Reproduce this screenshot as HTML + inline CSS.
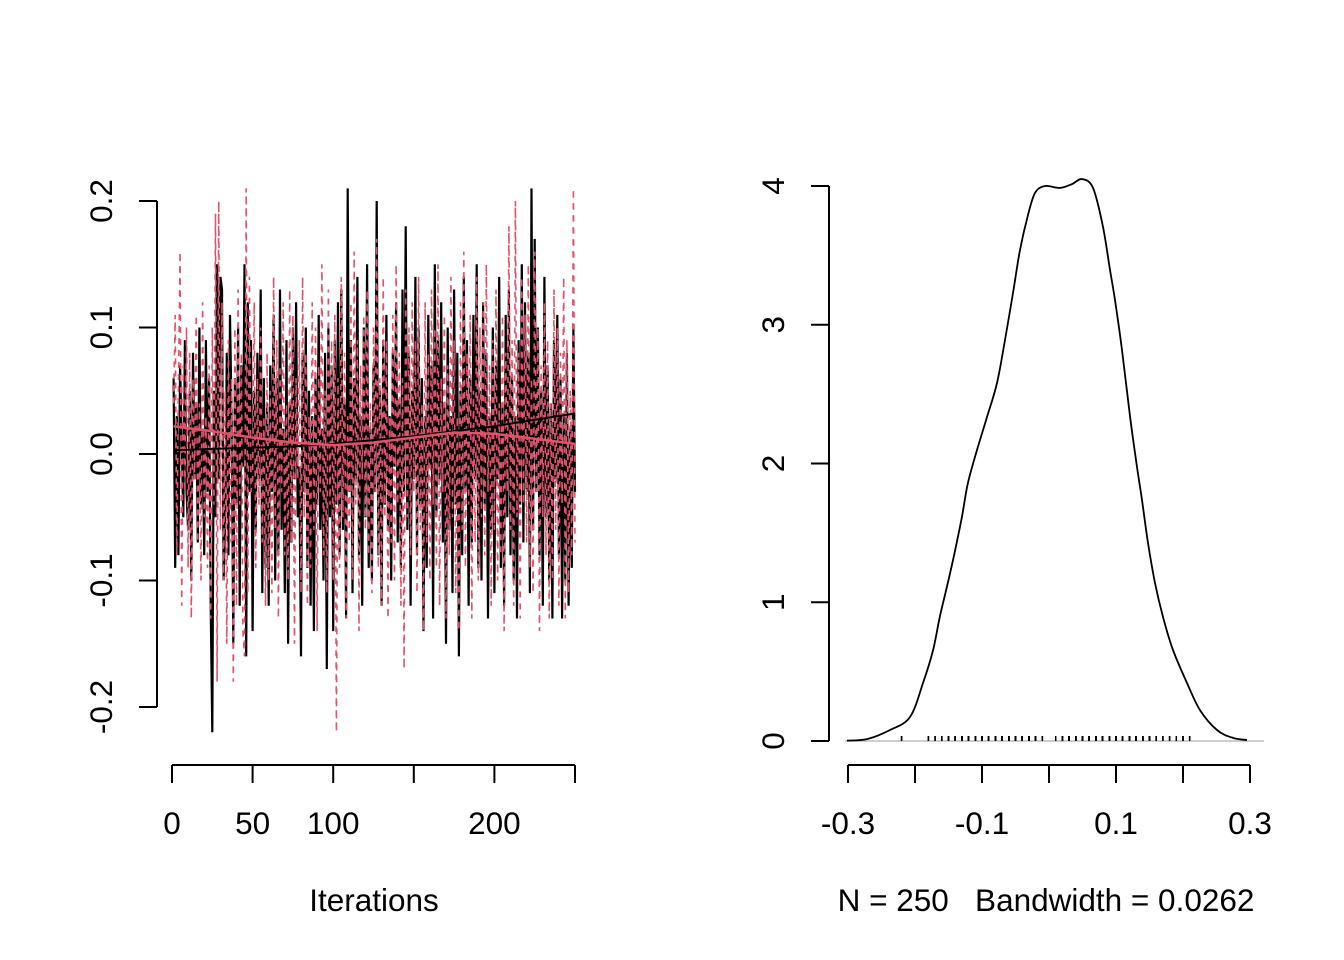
<!DOCTYPE html>
<html><head><meta charset="utf-8"><style>
html,body{margin:0;padding:0;background:#fff;width:1344px;height:960px;overflow:hidden}
svg text{font-family:"Liberation Sans",Arial,sans-serif;font-size:31.5px;fill:#000}
</style></head><body>
<svg id="s" width="1344" height="960" xmlns="http://www.w3.org/2000/svg">
<g id="trace"></g>
<g id="dens"></g>
</svg>
<script>
const chain1=[6,-9,3,-8,7,1,-5,9,-3,-6,5,-10,8,-2,4,-7,10,-4,2,-8,9,-3,6,-12,-22,5,-5,15,-2,14,13,-10,-5,8,-8,11,3,-15,6,-4,10,-12,7,-1,15,-16,12,-3,9,-14,5,-6,8,-2,13,-11,6,-9,4,-12,7,-3,11,-10,6,-8,13,-6,2,-11,9,-15,4,-7,10,-2,12,-5,-1,-16,8,-3,10,-9,5,-12,3,-14,6,-4,11,-6,2,-10,8,-17,10,-5,7,-14,9,-4,12,-8,13,-6,4,-13,21,-3,9,-11,6,-2,14,-8,3,-12,10,-5,15,-9,2,-10,7,-3,20,-8,5,-12,9,-4,11,-6,3,-10,8,-1,12,-7,4,-9,13,-3,18,-6,8,-12,5,-2,14,-8,10,-4,6,-14,3,-9,11,-1,7,-13,15,-5,9,-2,12,-7,4,-15,10,-6,3,-11,13,-4,8,-16,5,-8,14,-3,9,-12,6,-7,11,-2,15,-9,5,-10,12,-4,8,-13,3,-6,10,-11,7,-2,14,-9,4,-12,11,-5,13,-8,6,-10,3,-13,9,-4,15,-7,12,-3,8,-11,21,-6,17,-3,10,-8,5,-12,14,-5,7,-10,4,-13,9,-2,11,-8,6,-13,3,-10,8,-12,2,-9,10,-3];
const chain2=[4,11,-8,5,16,-12,7,-3,10,-9,8,-13,6,-2,11,-7,4,-10,12,-5,3,-9,7,-13,10,-4,19,-18,20,-6,12,-10,5,-15,9,-7,6,-18,10,-12,13,-4,8,-14,-16,21,-11,14,-3,-2,12,-9,6,-4,10,-7,3,-12,8,-10,5,-11,14,-6,9,-13,7,-3,12,-8,4,-10,13,-7,11,-15,6,-2,9,-11,14,-5,8,-12,3,-9,12,-6,10,-14,7,-3,15,-8,5,-11,13,-4,9,-10,11,-22,6,-9,14,-5,8,-13,3,-7,12,-10,16,-4,9,-14,7,-2,11,-6,13,-8,4,-11,10,-3,17,-9,6,-12,14,-5,9,-13,3,-7,11,-10,15,-4,8,-12,6,-17,13,-5,10,-8,12,-3,9,-11,14,-6,4,-14,12,-7,8,-10,13,-4,10,-9,15,-12,6,-3,11,-13,7,-8,14,-5,9,-11,3,-14,12,-6,16,-9,8,-4,11,-13,5,-7,14,-10,10,-5,12,-8,15,-3,7,-12,9,-6,13,-10,4,-8,11,-14,8,-3,18,-6,9,-12,20,-5,8,-13,14,-4,11,-7,15,-9,6,-11,16,-3,10,-14,7,-5,12,-8,9,-13,4,-10,13,-6,10,-12,8,-4,14,-13,9,-11,5,-8,21,-7];
const smoothIter=[1,25,50,75,100,125,150,175,200,225,250];
const smooth1=[0.003,0.004,0.005,0.006,0.008,0.011,0.014,0.018,0.022,0.027,0.032];
const smooth2=[0.022,0.018,0.013,0.009,0.007,0.009,0.013,0.017,0.016,0.012,0.008];
const traceXTicks=[0,50,100,150,200,250];
const traceXLabels=["0","50","100","","200",""];
const traceYTicks=[-0.2,-0.1,0,0.1,0.2];
const traceYLabels=["-0.2","-0.1","0.0","0.1","0.2"];
const densX=[-0.3015,-0.2716,-0.2373,-0.2075,-0.188,-0.173,-0.163,-0.151,-0.140,-0.130,-0.121,-0.1075,-0.0925,-0.0776,-0.0657,-0.0537,-0.0433,-0.0313,-0.0209,-0.006,0.0164,0.0343,0.0493,0.0657,0.0806,0.091,0.0985,0.109,0.121,0.1313,0.1388,0.1478,0.1582,0.1701,0.185,0.206,0.2254,0.2507,0.2746,0.2955];
const densY=[0.003,0.014,0.079,0.173,0.418,0.656,0.894,1.139,1.377,1.614,1.859,2.097,2.335,2.580,2.890,3.229,3.539,3.791,3.950,4.0,3.986,4.014,4.050,3.986,3.705,3.395,3.178,2.818,2.335,1.975,1.737,1.427,1.139,0.894,0.656,0.418,0.223,0.079,0.022,0.007];
const densXTicks=[-0.3,-0.2,-0.1,0,0.1,0.2,0.3];
const densXLabels=["-0.3","","-0.1","","0.1","","0.3"];
const densYTicks=[0,1,2,3,4];

const NS="http://www.w3.org/2000/svg";
function mk(p,t,a){const e=document.createElementNS(NS,t);for(const k in a)e.setAttribute(k,a[k]);p.appendChild(e);return e;}
const tx=i=>172+i*(575-172)/250, ty=v=>454-v*1265;
const T=document.getElementById('trace');
function poly(arr,xf,col,dash,name,w){let d=arr.map((v,i)=>(i?'L':'M')+xf(i).toFixed(1)+' '+ty(v).toFixed(1)).join('');
 const p=mk(T,'path',{d:d,fill:'none',stroke:col,'stroke-width':w,'stroke-dasharray':dash||'none'});
 
 }
poly(chain1.map(v=>v/100),i=>tx(i+1),'#000','','chain1-trace',2.2);
poly(chain2.map(v=>v/100),i=>tx(i+1),'#DF536B','6,6','chain2-trace',1.6);
poly(smooth1,i=>tx(smoothIter[i]),'#000','','chain1-smooth',2);
poly(smooth2,i=>tx(smoothIter[i]),'#DF536B','','chain2-smooth',2.5);
let l=mk(T,'line',{x1:172,y1:765,x2:575,y2:765,stroke:'#000','stroke-width':2});

traceXTicks.forEach((v,i)=>{const x=tx(v);mk(T,'line',{x1:x,y1:765,x2:x,y2:783,stroke:'#000','stroke-width':2});
 if(traceXLabels[i]){const t=mk(T,'text',{x:x,y:834,'text-anchor':'middle'});t.textContent=traceXLabels[i];
 }});
l=mk(T,'line',{x1:157,y1:ty(-0.2),x2:157,y2:ty(0.2),stroke:'#000','stroke-width':2});

traceYTicks.forEach((v,i)=>{const y=ty(v);mk(T,'line',{x1:139,y1:y,x2:157,y2:y,stroke:'#000','stroke-width':2});
 const t=mk(T,'text',{x:112,y:y,'text-anchor':'middle',transform:`rotate(-90 112 ${y})`});t.textContent=traceYLabels[i];
 });
let t=mk(T,'text',{x:374,y:911,'text-anchor':'middle'});t.textContent='Iterations';


const D=document.getElementById('dens');
const dx=v=>848+(v+0.3)*(1250-848)/0.6, dy=v=>741-v*138.75;
l=mk(D,'line',{x1:845,y1:741,x2:1264,y2:741,stroke:'#bebebe','stroke-width':1.5});

chain1.concat(chain2).forEach(v=>{const x=dx(v/100);const r=mk(D,'line',{x1:x,y1:736,x2:x,y2:741,stroke:'#000','stroke-width':1.5});
 });
const P=densX.map((v,i)=>[dx(v),dy(densY[i])]);
let d='M'+P[0][0].toFixed(1)+' '+P[0][1].toFixed(1);
for(let i=0;i<P.length-1;i++){const p0=P[Math.max(0,i-1)],p1=P[i],p2=P[i+1],p3=P[Math.min(P.length-1,i+2)];
 const c1=[p1[0]+(p2[0]-p0[0])/6,p1[1]+(p2[1]-p0[1])/6],c2=[p2[0]-(p3[0]-p1[0])/6,p2[1]-(p3[1]-p1[1])/6];
 d+=`C${c1[0].toFixed(1)} ${c1[1].toFixed(1)} ${c2[0].toFixed(1)} ${c2[1].toFixed(1)} ${p2[0].toFixed(1)} ${p2[1].toFixed(1)}`;}
let p=mk(D,'path',{d:d,fill:'none',stroke:'#000','stroke-width':1.8,'stroke-linejoin':'round'});

l=mk(D,'line',{x1:848,y1:765,x2:1250,y2:765,stroke:'#000','stroke-width':2});

densXTicks.forEach((v,i)=>{const x=dx(v);mk(D,'line',{x1:x,y1:765,x2:x,y2:783,stroke:'#000','stroke-width':2});
 if(densXLabels[i]){const t=mk(D,'text',{x:x,y:834,'text-anchor':'middle'});t.textContent=densXLabels[i];
 }});
l=mk(D,'line',{x1:829,y1:dy(0),x2:829,y2:dy(4),stroke:'#000','stroke-width':2});

densYTicks.forEach(v=>{const y=dy(v);mk(D,'line',{x1:811,y1:y,x2:829,y2:y,stroke:'#000','stroke-width':2});
 const t=mk(D,'text',{x:784,y:y,'text-anchor':'middle',transform:`rotate(-90 784 ${y})`});t.textContent=String(v);
 });
t=mk(D,'text',{x:1046,y:911,'text-anchor':'middle'});t.textContent='N = 250   Bandwidth = 0.0262';
t.setAttribute('xml:space','preserve');t.style.whiteSpace='pre';

</script>
</body></html>
